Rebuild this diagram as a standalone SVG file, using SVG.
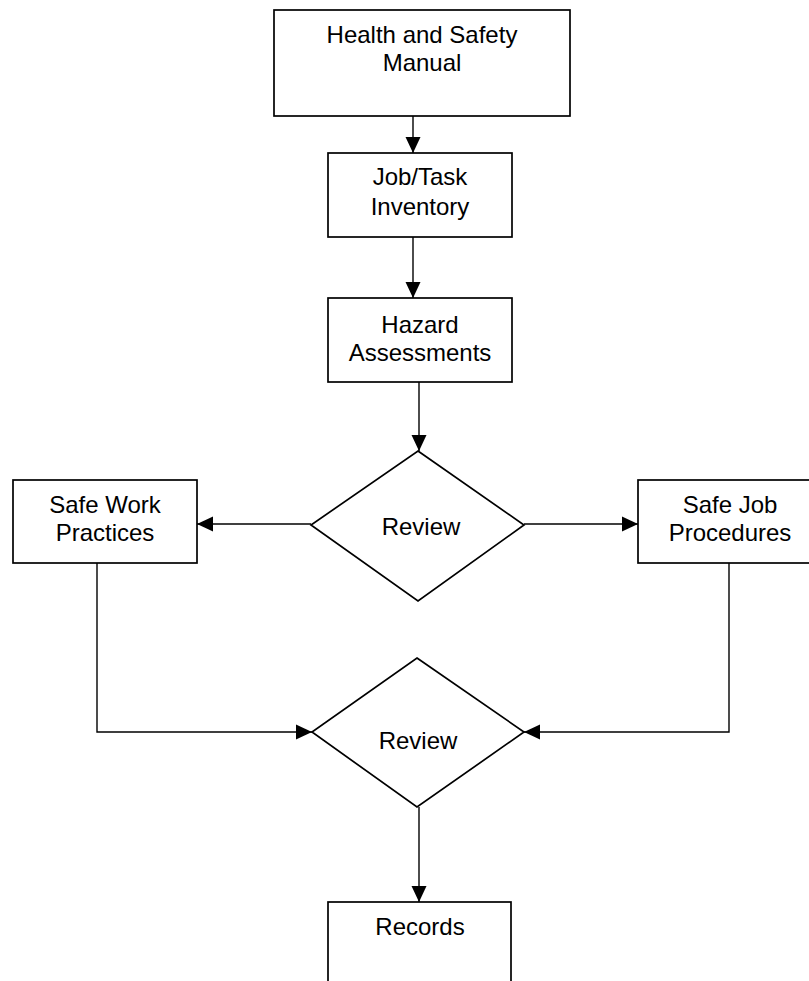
<svg xmlns="http://www.w3.org/2000/svg" width="809" height="981" viewBox="0 0 809 981">
<style>
.box{fill:#fff;stroke:#000;stroke-width:1.7}
.lbl{font-family:"Liberation Sans",Arial,sans-serif;font-size:24px;fill:#000;text-anchor:middle}
.con{fill:none;stroke:#000;stroke-width:1.4}
</style>
<defs>
<marker id="ah" markerUnits="userSpaceOnUse" markerWidth="16" markerHeight="16" viewBox="0 0 16 16" refX="16" refY="8" orient="auto">
<path d="M0,0.5 L16,8 L0,15.5 Z" fill="#000"/>
</marker>
</defs>
<rect width="809" height="981" fill="#fff"/>
<g id="connectors">
<path class="con" d="M413,116 V153" marker-end="url(#ah)"/>
<path class="con" d="M413,237 V298" marker-end="url(#ah)"/>
<path class="con" d="M419,382 V451" marker-end="url(#ah)"/>
<path class="con" d="M311,524 H197" marker-end="url(#ah)"/>
<path class="con" d="M524,524 H638" marker-end="url(#ah)"/>
<path class="con" d="M97,563 V732 H312" marker-end="url(#ah)"/>
<path class="con" d="M729,563 V732 H524" marker-end="url(#ah)"/>
<path class="con" d="M419,807 V902" marker-end="url(#ah)"/>
</g>
<g id="manual">
<rect class="box" x="274" y="10" width="296" height="106"/>
<text class="lbl" x="422" y="43">Health and Safety</text>
<text class="lbl" x="422" y="71">Manual</text>
</g>
<g id="inventory">
<rect class="box" x="328" y="153" width="184" height="84"/>
<text class="lbl" x="420" y="185">Job/Task</text>
<text class="lbl" x="420" y="215">Inventory</text>
</g>
<g id="hazard">
<rect class="box" x="328" y="298" width="184" height="84"/>
<text class="lbl" x="420" y="333">Hazard</text>
<text class="lbl" x="420" y="361">Assessments</text>
</g>
<g id="review1">
<polygon class="box" points="418,451 524,525 418,601 311,525"/>
<text class="lbl" x="421" y="535">Review</text>
</g>
<g id="safework">
<rect class="box" x="13" y="480" width="184" height="83"/>
<text class="lbl" x="105" y="513">Safe Work</text>
<text class="lbl" x="105" y="541">Practices</text>
</g>
<g id="safejob">
<rect class="box" x="638" y="480" width="184" height="83"/>
<text class="lbl" x="730" y="513">Safe Job</text>
<text class="lbl" x="730" y="541">Procedures</text>
</g>
<g id="review2">
<polygon class="box" points="417,658 524,732 417,807 312,732"/>
<text class="lbl" x="418" y="749">Review</text>
</g>
<g id="records">
<rect class="box" x="328" y="902" width="183" height="100"/>
<text class="lbl" x="420" y="935">Records</text>
</g>
</svg>
